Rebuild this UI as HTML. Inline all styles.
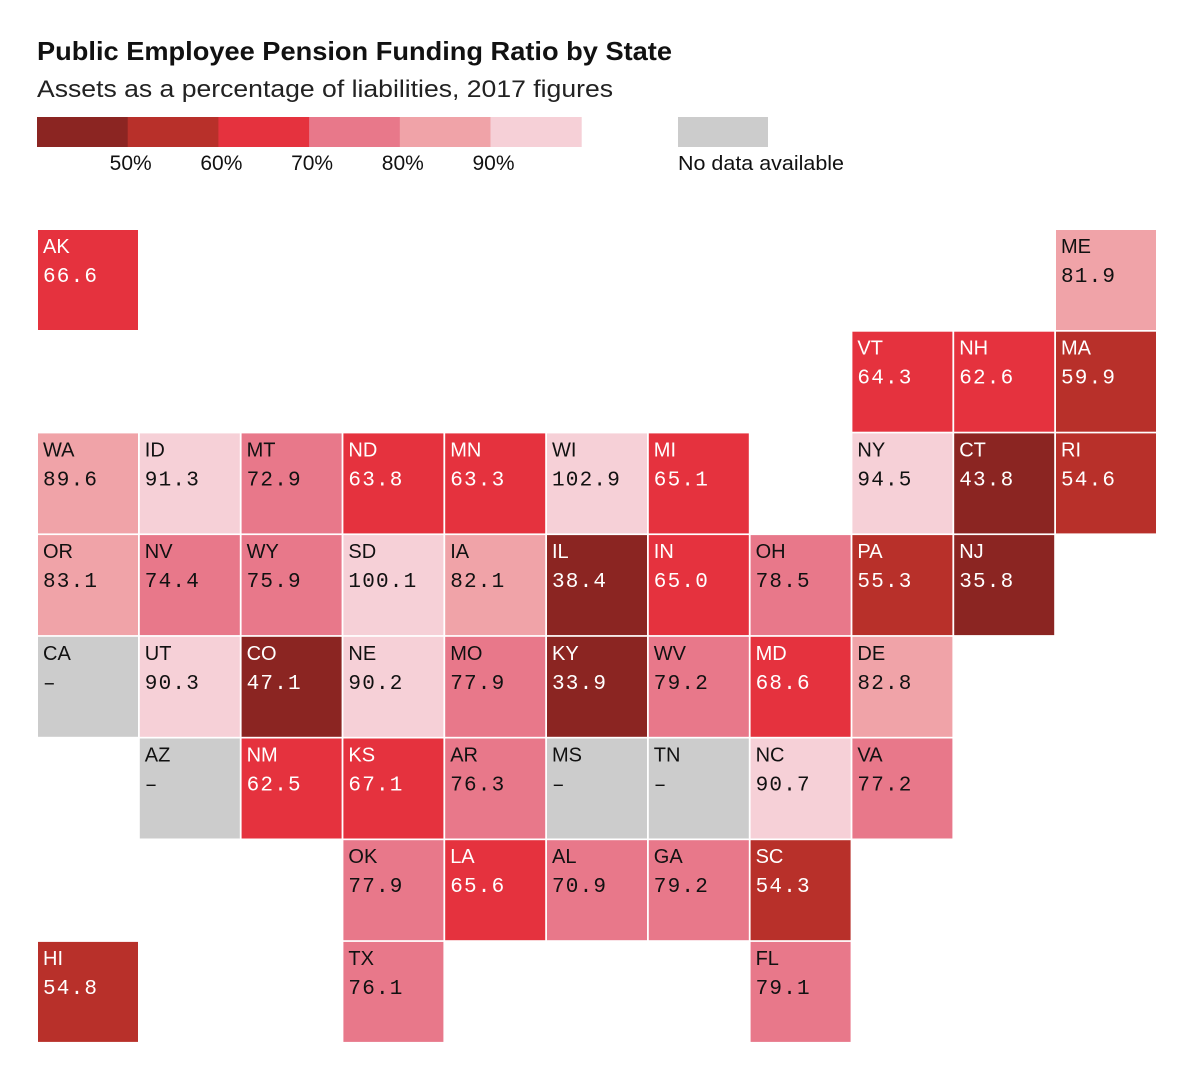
<!DOCTYPE html>
<html><head><meta charset="utf-8">
<style>
body{margin:0;background:#fff;width:1200px;height:1082px;overflow:hidden;font-family:"Liberation Sans",sans-serif;}
svg{display:block}
</style></head>
<body>
<svg id="chart" width="1200" height="1082" xmlns="http://www.w3.org/2000/svg">
<text x="37" y="60" font-size="26" font-weight="bold" fill="#111" textLength="635" lengthAdjust="spacingAndGlyphs" font-family="Liberation Sans, sans-serif">Public Employee Pension Funding Ratio by State</text>
<text x="37" y="97" font-size="24.5" fill="#222" textLength="576" lengthAdjust="spacingAndGlyphs" font-family="Liberation Sans, sans-serif">Assets as a percentage of liabilities, 2017 figures</text>
<g id="legend"></g>
<g id="tiles"></g>
</svg>
<script>
const states = ["AK","ME","VT","NH","MA","WA","ID","MT","ND","MN","WI","MI","NY","CT","RI","OR","NV","WY","SD","IA","IL","IN","OH","PA","NJ","CA","UT","CO","NE","MO","KY","WV","MD","DE","AZ","NM","KS","AR","MS","TN","NC","VA","OK","LA","AL","GA","SC","HI","TX","FL"];
const values = [66.6,81.9,64.3,62.6,59.9,89.6,91.3,72.9,63.8,63.3,102.9,65.1,94.5,43.8,54.6,83.1,74.4,75.9,100.1,82.1,38.4,65.0,78.5,55.3,35.8,null,90.3,47.1,90.2,77.9,33.9,79.2,68.6,82.8,null,62.5,67.1,76.3,null,null,90.7,77.2,77.9,65.6,70.9,79.2,54.3,54.8,76.1,79.1];
const cols = [0,10,8,9,10,0,1,2,3,4,5,6,8,9,10,0,1,2,3,4,5,6,7,8,9,0,1,2,3,4,5,6,7,8,1,2,3,4,5,6,7,8,3,4,5,6,7,0,3,7];
const rows = [0,0,1,1,1,2,2,2,2,2,2,2,2,2,2,3,3,3,3,3,3,3,3,3,3,4,4,4,4,4,4,4,4,4,5,5,5,5,5,5,5,5,6,6,6,6,6,7,7,7];
const thresholds = [50,60,70,80,90];
const thresholdLabels = ["50%","60%","70%","80%","90%"];
const palette = ["#8b2522","#b8302a","#e5323e","#e8788a","#f0a3a8","#f6d0d7"];
const NS="http://www.w3.org/2000/svg";
function mk(t,a){const e=document.createElementNS(NS,t);for(const k in a)e.setAttribute(k,a[k]);return e;}
function colorIdx(v){let i=0;while(i<thresholds.length&&v>=thresholds[i])i++;return i;}
const xPos=c=>38+c*101.8, yPos=r=>230+r*101.7;
const lg=document.getElementById('legend');
const segW=90.7;
palette.forEach((c,i)=>{const r=mk('rect',{x:37+i*segW,y:117,width:segW+0.5,height:30,fill:c});


lg.appendChild(r);});
thresholdLabels.forEach((l,i)=>{const t=mk('text',{x:37+(i+1)*segW+3,y:170,'font-size':21,'text-anchor':'middle',fill:'#111'});t.textContent=l;


lg.appendChild(t);});
const nd=mk('rect',{x:678,y:117,width:90,height:30,fill:'#cccccc'});


lg.appendChild(nd);
const ndt=mk('text',{x:678,y:170,'font-size':20.5,fill:'#111',textLength:166,lengthAdjust:'spacingAndGlyphs'});ndt.textContent='No data available';


lg.appendChild(ndt);
const tg=document.getElementById('tiles');
states.forEach((s,i)=>{
 const v=values[i];const x=xPos(cols[i]),y=yPos(rows[i]);
 const g=mk('g',{});
 
 
 const ci=v==null?-1:colorIdx(v);
 const fill=v==null?'#cccccc':palette[ci];
 const tc=(v!=null&&ci<=2)?'#fff':'#111';
 g.appendChild(mk('rect',{x:x,y:y,width:100,height:100,fill:fill}));
 const a=mk('text',{x:x+5,y:y+23,'font-size':20,fill:tc});a.textContent=s;g.appendChild(a);
 const b=mk('text',{x:x+5,y:y+52,'font-size':21,fill:tc,'letter-spacing':'1.2','font-family':'Liberation Mono, monospace'});
 b.textContent=v==null?'–':v.toFixed(1);g.appendChild(b);
 tg.appendChild(g);
});
</script>
</body></html>
